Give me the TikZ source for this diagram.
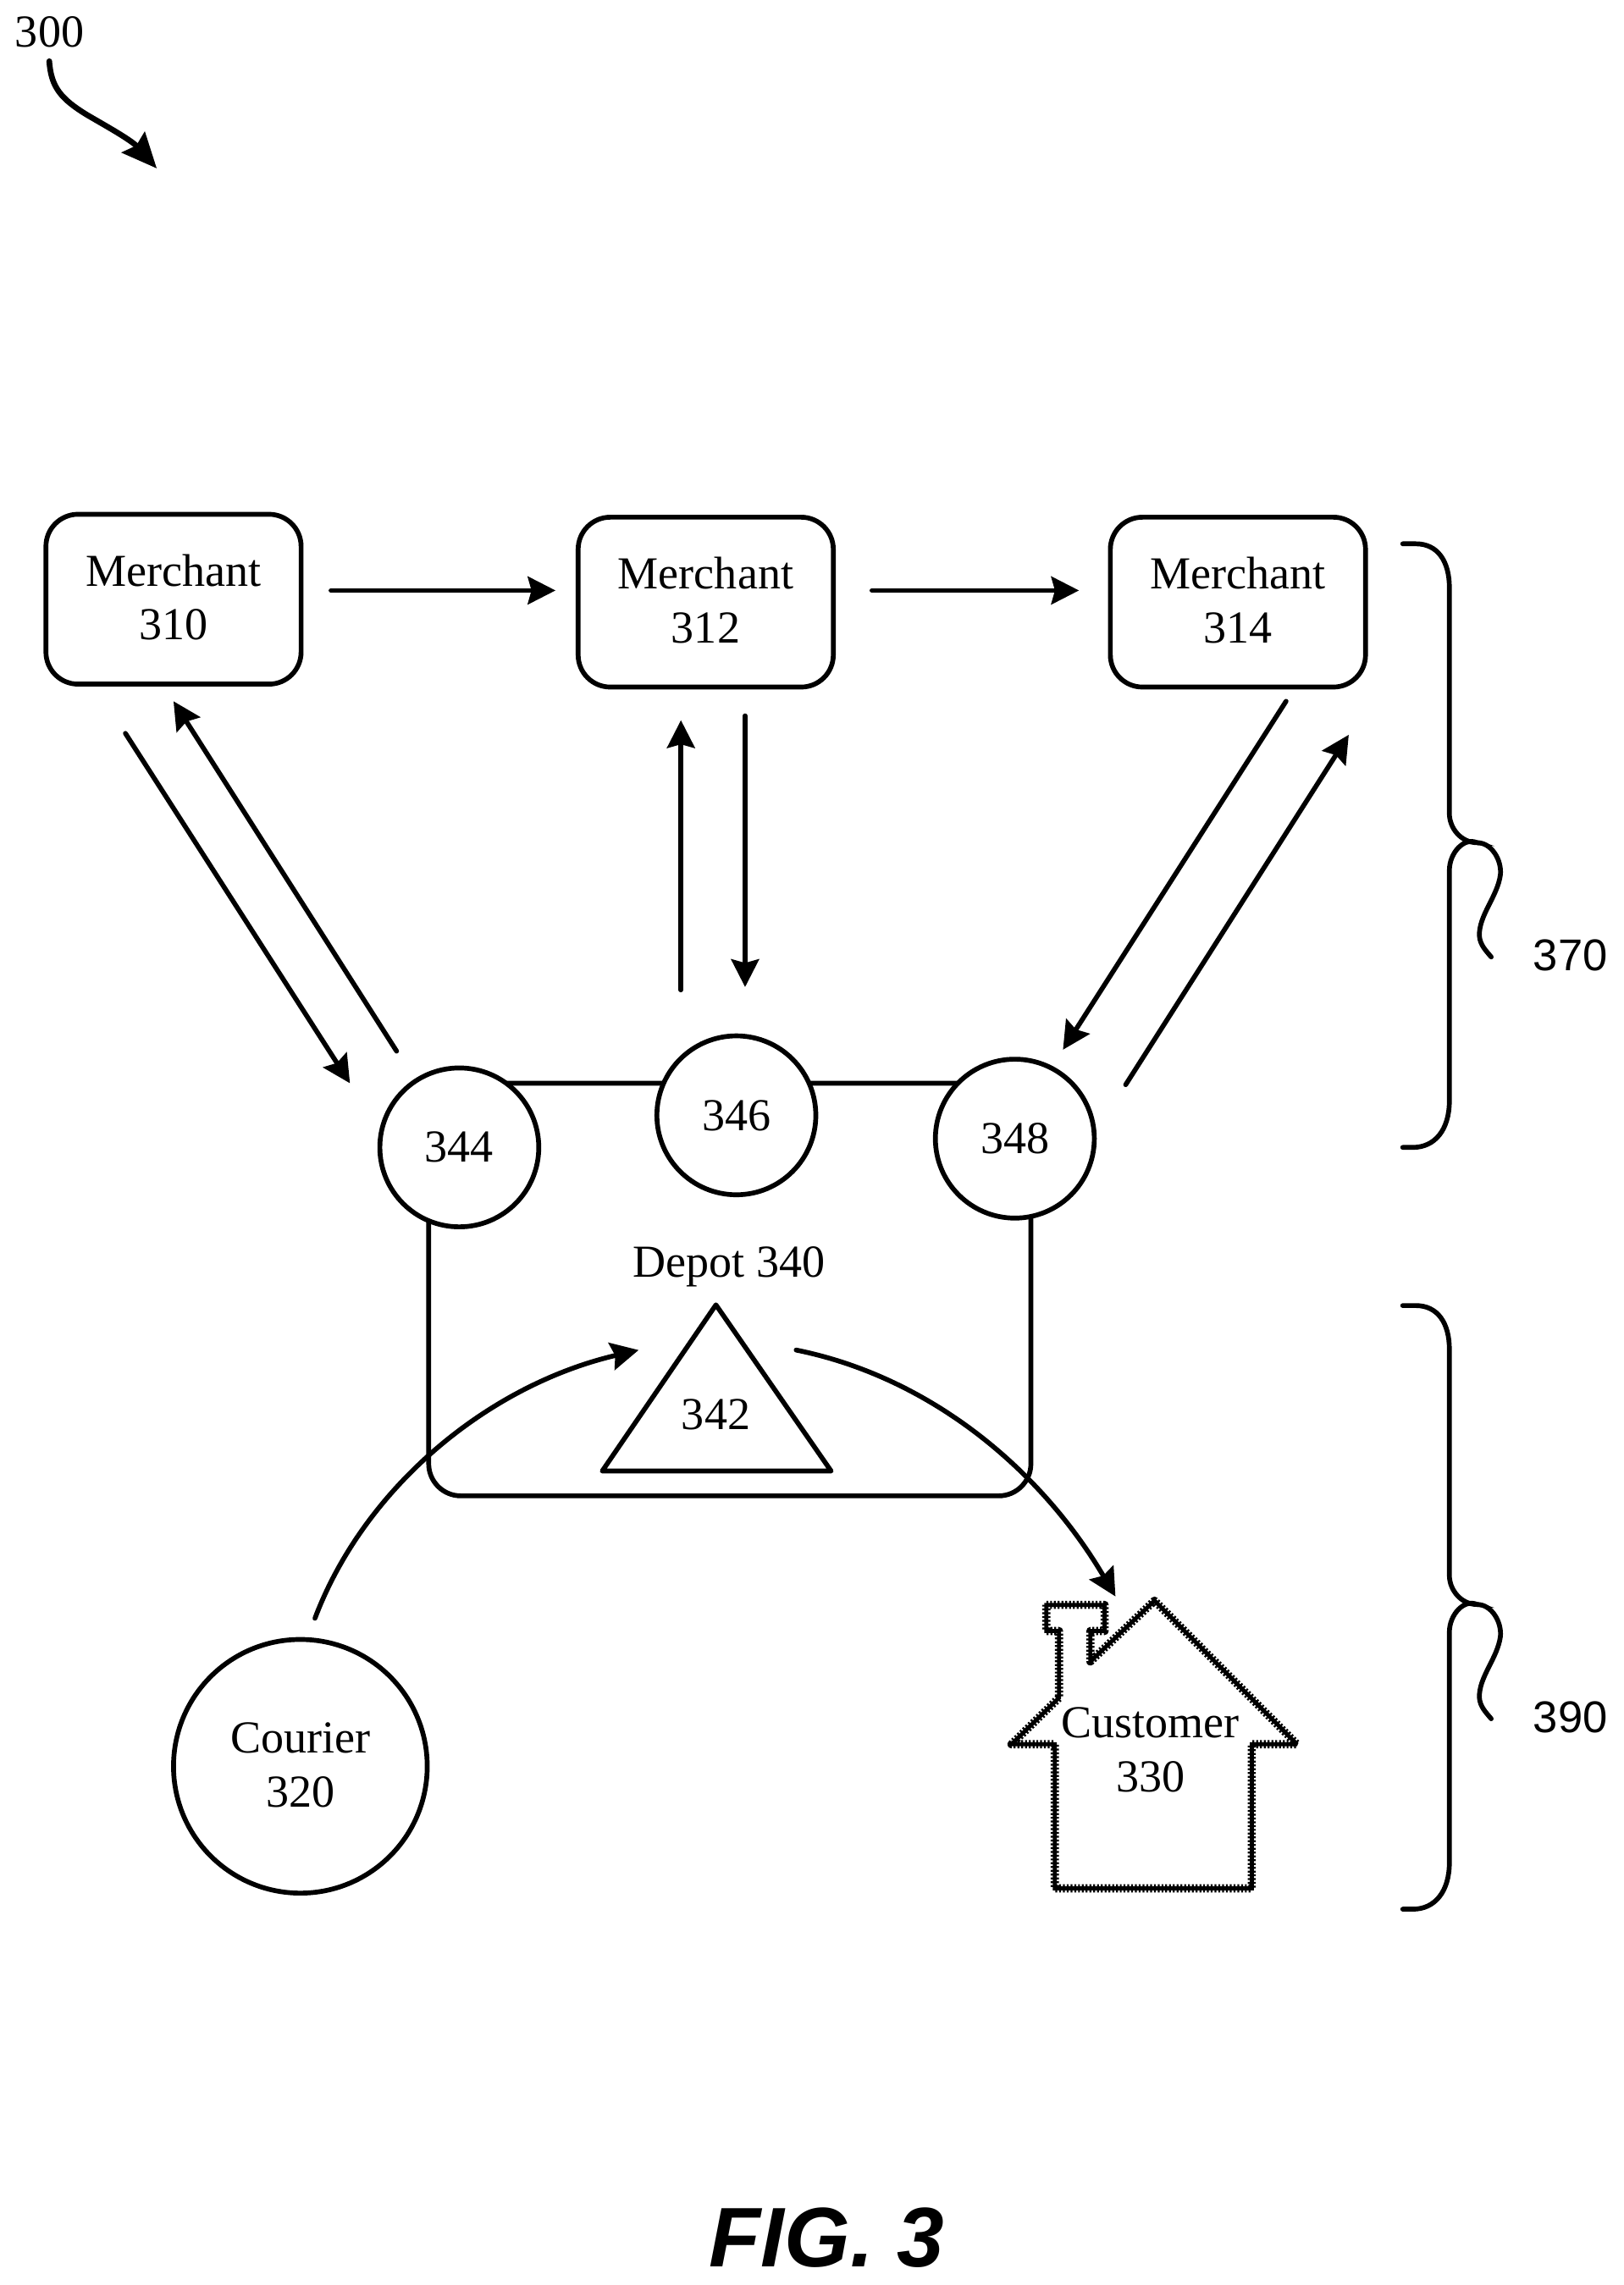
\documentclass[tikz,border=0pt]{standalone}
\usepackage{fontspec}
\setmainfont{Liberation Serif}
\newfontfamily\labsans{Liberation Sans}
\usetikzlibrary{arrows.meta}
\tikzset{
  lbl/.style={align=center,inner sep=0pt,font=\fontsize{31.4}{37}\selectfont},
  merchantbox/.style={lbl,draw,line width=3.3pt,rounded corners=22pt,minimum width=175pt,minimum height=116.5pt,fill=white,text depth=2.8pt},
  portc/.style={lbl,draw,circle,line width=3.3pt,minimum size=109pt,fill=white},
  conn/.style={line width=3.3pt,line cap=round,-{Stealth[length=19pt,width=19pt,inset=2.5pt]}},
  brace/.style={line width=3.3pt,line cap=round},
  sidelbl/.style={inner sep=0pt,font=\labsans\fontsize{30.5}{36}\selectfont}
}
\begin{document}
\begin{tikzpicture}[x=1pt,y=-1pt]
\useasboundingbox (0,0) rectangle (1113.3,1567.3);
% depot
\node[draw,line width=3.3pt,rounded corners=22pt,minimum width=413pt,minimum height=283pt,inner sep=0pt] (depot) at (500.5,884.5) {};
\node[lbl] (depottxt) at (500,869) {Depot 340};
% merchants
\node[merchantbox] (m310) at (119,411) {Merchant\\310};
\node[merchantbox] (m312) at (484,413) {Merchant\\312};
\node[merchantbox] (m314) at (849,413) {Merchant\\314};
% ports
\node[portc] (p344) at (315,787) {344};
\node[portc] (p346) at (505,765) {346};
\node[portc] (p348) at (696,781) {348};
% triangle
\draw[line width=3.3pt,line join=round] (491,895) -- (570,1009) -- (413,1009) -- cycle;
\node[lbl] (t342) at (491,970) {342};
% courier
\node[lbl,draw,circle,line width=3.3pt,minimum size=174pt,text depth=2pt] (courier) at (206,1211.5) {Courier\\320};
% house
\def\housepath{(717.6,1100.8) -- (757.6,1100.8) -- (757.6,1118.7) -- (747.8,1118.7) -- (747.8,1139.6) -- (791.8,1097.9) -- (889.5,1196.4) -- (858.5,1196.4) -- (858.5,1295.2) -- (723.4,1295.2) -- (723.4,1196.4) -- (693.7,1196.4) -- (726.3,1164.5) -- (726.3,1118.7) -- (717.6,1118.7) -- cycle}
\draw[line width=5.6pt,dash pattern=on 1.3pt off 1.3pt,line join=round] \housepath;
\draw[line width=2.8pt,line join=miter,miter limit=2] \housepath;
\node[lbl] (customer) at (789,1200) {Customer\\330};
% free ends
\coordinate (a1s) at (227,405); \coordinate (a1e) at (381,405);
\coordinate (a2s) at (598,405); \coordinate (a2e) at (740,405);
\coordinate (b1s) at (86,503);  \coordinate (b1e) at (240,743);
\coordinate (b2s) at (272,721); \coordinate (b2e) at (119,481);
\coordinate (c1s) at (467,679); \coordinate (c1e) at (467,494);
\coordinate (c2s) at (511,491); \coordinate (c2e) at (511,677);
\coordinate (d1s) at (882,481); \coordinate (d1e) at (729,720);
\coordinate (d2s) at (772,744); \coordinate (d2e) at (925,504);
\coordinate (e1s) at (216,1110); \coordinate (e1e) at (438,926);
\coordinate (e2s) at (546,926); \coordinate (e2e) at (765,1095);
\coordinate (f1s) at (33.8,42); \coordinate (f1m) at (60,79); \coordinate (f1e) at (107.5,115.5);
% arrows
\draw[conn] (a1s) -- (a1e);
\draw[conn] (a2s) -- (a2e);
\draw[conn] (b1s) -- (b1e);
\draw[conn] (b2s) -- (b2e);
\draw[conn] (c1s) -- (c1e);
\draw[conn] (c2s) -- (c2e);
\draw[conn] (d1s) -- (d1e);
\draw[conn] (d2s) -- (d2e);
\draw[conn] (e1s) .. controls (250,1020) and (335,950) .. (e1e);
\draw[conn] (e2s) .. controls (640,945) and (715,1010) .. (e2e);
\draw[line width=3.9pt,line cap=round,-{Stealth[length=24pt,width=21pt,inset=3pt]}] (f1s) .. controls (35,60) and (42,68) .. (f1m) .. controls (72,86) and (90,96) .. (f1e);
% braces
\begin{scope}[xshift=1pt]
\draw[brace] (961,373) -- (970,373) .. controls (985,373) and (993,385) .. (993,403) -- (993,558) .. controls (993,568) and (1001,578) .. (1012,578) .. controls (1003,574) and (993,585) .. (993,597) -- (993,755) .. controls (993,775) and (983,787) .. (968,787) -- (961,787);
\draw[brace] (1012,578) .. controls (1022,578) and (1029,590) .. (1028,600) .. controls (1026,615) and (1013,628) .. (1013.6,642) .. controls (1014,648) and (1018,652) .. (1021.7,656.4);
\end{scope}
\begin{scope}[xshift=1pt,yshift=-522.5pt]
\draw[brace] (961,373) -- (970,373) .. controls (985,373) and (993,385) .. (993,403) -- (993,558) .. controls (993,568) and (1001,578) .. (1012,578) .. controls (1003,574) and (993,585) .. (993,597) -- (993,755) .. controls (993,775) and (983,787) .. (968,787) -- (961,787);
\draw[brace] (1012,578) .. controls (1022,578) and (1029,590) .. (1028,600) .. controls (1026,615) and (1013,628) .. (1013.6,642) .. controls (1014,648) and (1018,652) .. (1021.7,656.4);
\end{scope}
% labels
\node[sidelbl] (l370) at (1077,655) {370};
\node[sidelbl] (l390) at (1077,1178) {390};
\node[lbl] (l300) at (34,22) {300};
\node[inner sep=0pt,font=\labsans\bfseries\itshape\fontsize{58}{64}\selectfont] (fig) at (567,1535) {FIG. 3};
\end{tikzpicture}
\end{document}
